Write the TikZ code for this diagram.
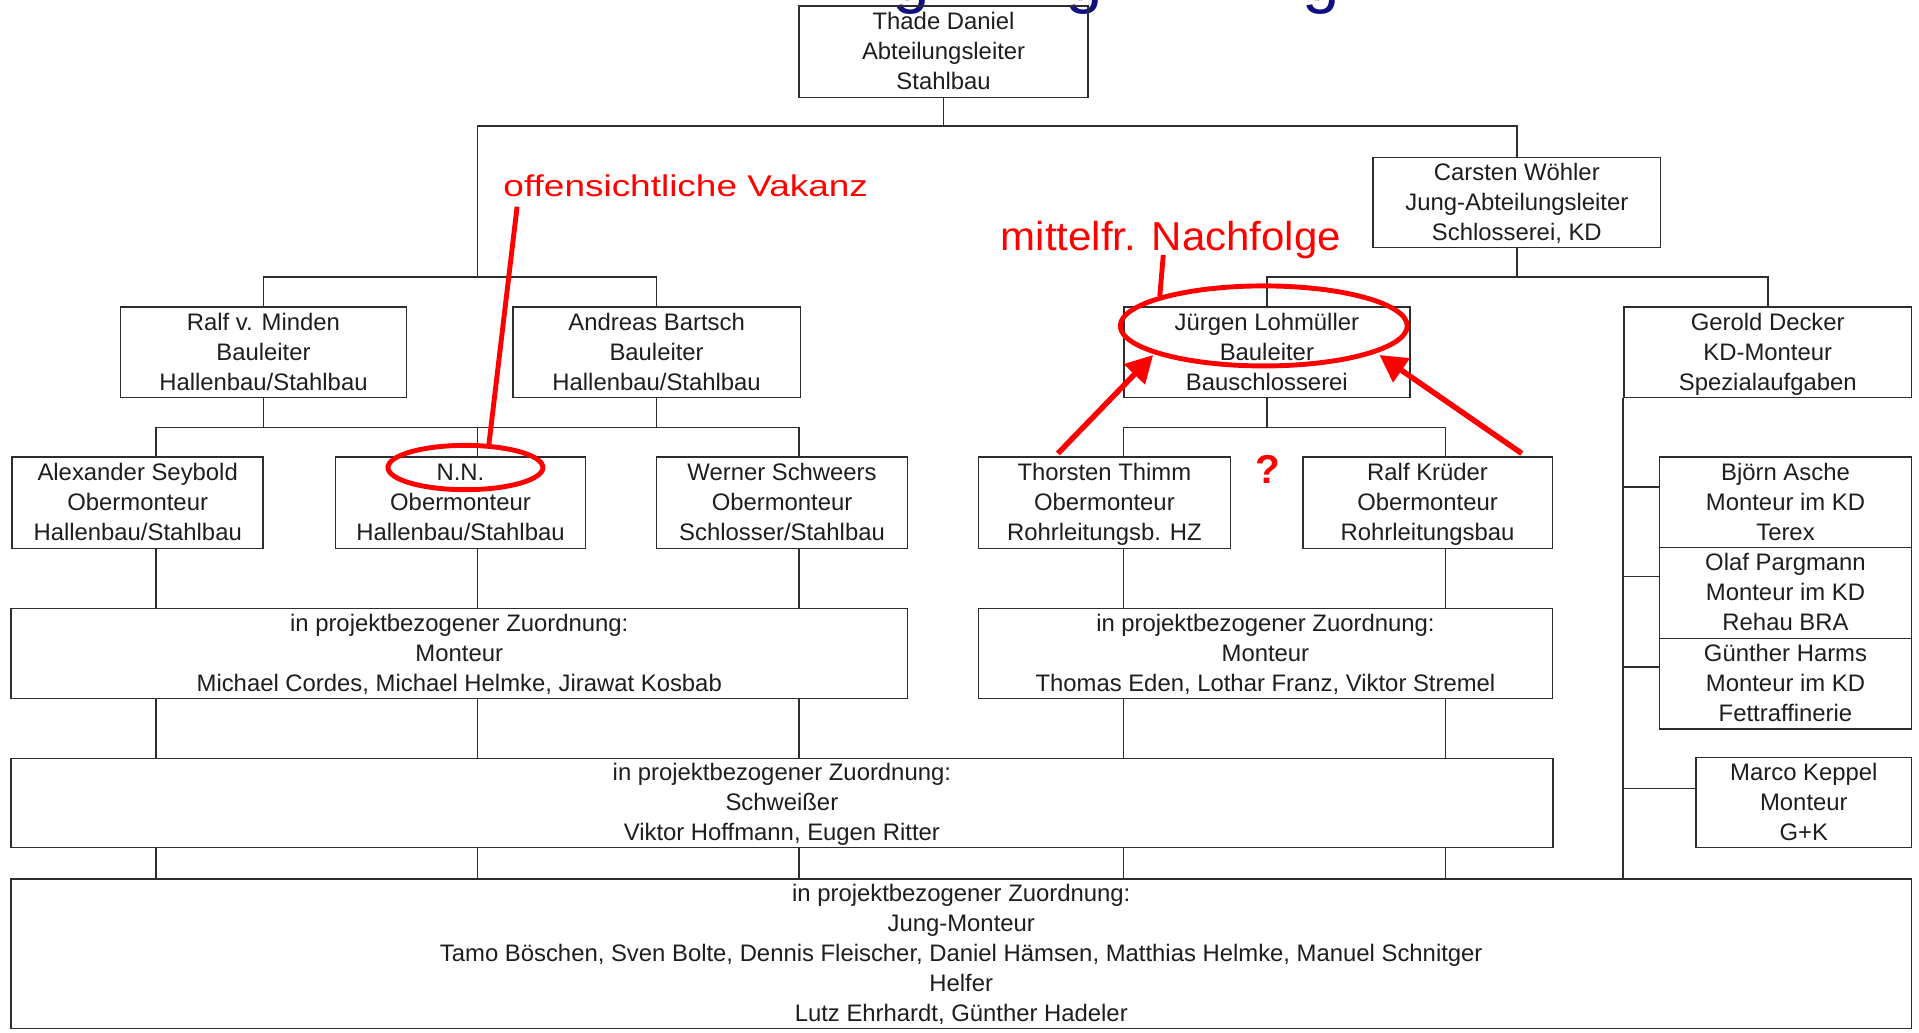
\documentclass[tikz,border=0pt]{standalone}
\usepackage{fontspec}
\usetikzlibrary{shapes.geometric,arrows.meta,calc}
\newfontfamily\boxfont{Liberation Sans}
\newfontfamily\vakfont{Liberation Sans}[FakeStretch=1.233]
\newfontfamily\nachfont{Liberation Sans}[FakeStretch=1.04]
\definecolor{linecol}{RGB}{45,45,45}
\definecolor{textcol}{RGB}{30,30,30}
\definecolor{titleblue}{RGB}{16,16,128}
\definecolor{markred}{RGB}{255,0,0}
\newcommand{\topstrt}{\rule{0pt}{18pt}}
\newcommand{\botstrt}{\rule[-4.9pt]{0pt}{4.9pt}}
\tikzset{
  orgbox/.style={draw=linecol, line width=1.3pt, inner sep=0pt, align=center, text=textcol,
    font=\boxfont\fontsize{19.5}{24.5}\selectfont},
  conn/.style={draw=linecol, line width=1.3pt},
  redmark/.style={draw=markred, line width=4pt},
  redell/.style={ellipse, draw=markred, line width=4pt, inner sep=0pt},
  redarrow/.style={draw=markred, line width=4.5pt, -{Triangle[length=22pt,width=23pt]}},
  titleg/.style={text=titleblue, inner sep=0pt, anchor=base west, font=\boxfont\fontsize{55}{60}\selectfont},
}
\begin{document}
\begin{tikzpicture}[x=1pt,y=-1pt]
\useasboundingbox (0,0) rectangle (1568,844);
\fill[white] (0,0) rectangle (1568,844);

% cut-off title descenders
\node[titleg] (g1) at (729,0.7) {g};
\node[titleg] (g2) at (870,0.7) {g};
\node[titleg] (g3) at (1064,0.7) {g};

% boxes
\node[orgbox, minimum width=236pt, minimum height=74.6pt] (thade) at (771,42.2)
  {\topstrt Thade Daniel\\Abteilungsleiter\\Stahlbau\botstrt};
\node[orgbox, minimum width=235pt, minimum height=73.5pt] (carsten) at (1239.4,165.35)
  {\topstrt Carsten Wöhler\\Jung-Abteilungsleiter\\Schlosserei, KD\botstrt};
\node[orgbox, minimum width=233.5pt, minimum height=74.1pt] (ralf) at (215.25,287.65)
  {\topstrt Ralf v. Minden\\Bauleiter\\Hallenbau/Stahlbau\botstrt};
\node[orgbox, minimum width=235pt, minimum height=74.1pt] (bartsch) at (536.5,287.65)
  {\topstrt Andreas Bartsch\\Bauleiter\\Hallenbau/Stahlbau\botstrt};
\node[orgbox, minimum width=233.5pt, minimum height=74.1pt] (juergen) at (1035.15,287.65)
  {\topstrt Jürgen Lohmüller\\Bauleiter\\Bauschlosserei\botstrt};
\node[orgbox, minimum width=235pt, minimum height=74.1pt] (gerold) at (1444.4,287.65)
  {\topstrt Gerold Decker\\KD-Monteur\\Spezialaufgaben\botstrt};
\node[orgbox, minimum width=205pt, minimum height=74.9pt] (alex) at (112.5,410.65)
  {\topstrt Alexander Seybold\\Obermonteur\\Hallenbau/Stahlbau\botstrt};
\node[orgbox, minimum width=204.5pt, minimum height=74.9pt] (nn) at (376.25,410.65)
  {\topstrt N.N.\\Obermonteur\\Hallenbau/Stahlbau\botstrt};
\node[orgbox, minimum width=205pt, minimum height=74.9pt] (werner) at (639,410.65)
  {\topstrt Werner Schweers\\Obermonteur\\Schlosser/Stahlbau\botstrt};
\node[orgbox, minimum width=206pt, minimum height=74.9pt] (thorsten) at (902.4,410.65)
  {\topstrt Thorsten Thimm\\Obermonteur\\Rohrleitungsb. HZ\botstrt};
\node[orgbox, minimum width=204pt, minimum height=74.9pt] (ralfk) at (1166.45,410.65)
  {\topstrt Ralf Krüder\\Obermonteur\\Rohrleitungsbau\botstrt};
\node[orgbox, minimum width=206pt, minimum height=74pt] (bjoern) at (1458.9,410.2)
  {\topstrt Björn Asche\\Monteur im KD\\Terex\botstrt};
\node[orgbox, minimum width=206pt, minimum height=74.4pt] (olaf) at (1458.9,484.4)
  {\topstrt Olaf Pargmann\\Monteur im KD\\Rehau BRA\botstrt};
\node[orgbox, minimum width=206pt, minimum height=74.1pt] (guenther) at (1458.9,558.65)
  {\topstrt Günther Harms\\Monteur im KD\\Fettraffinerie\botstrt};
\node[orgbox, minimum width=176pt, minimum height=73.5pt] (marco) at (1473.9,655.65)
  {\topstrt Marco Keppel\\Monteur\\G+K\botstrt};
\node[orgbox, minimum width=732.5pt, minimum height=73.6pt] (mont1) at (375.25,533.9)
  {\topstrt in projektbezogener Zuordnung:\\Monteur\\Michael Cordes, Michael Helmke, Jirawat Kosbab\botstrt};
\node[orgbox, minimum width=469.1pt, minimum height=73.6pt] (mont2) at (1033.95,533.9)
  {\topstrt in projektbezogener Zuordnung:\\Monteur\\Thomas Eden, Lothar Franz, Viktor Stremel\botstrt};
\node[orgbox, minimum width=1259.7pt, minimum height=72.7pt] (schw) at (638.85,656.05)
  {\topstrt in projektbezogener Zuordnung:\\Schweißer\\Viktor Hoffmann, Eugen Ritter\botstrt};
\node[orgbox, minimum width=1552.9pt, minimum height=122pt] (big) at (785.45,779.3)
  {\topstrt in projektbezogener Zuordnung:\\Jung-Monteur\\Tamo Böschen, Sven Bolte, Dennis Fleischer, Daniel Hämsen, Matthias Helmke, Manuel Schnitger\\Helfer\\Lutz Ehrhardt, Günther Hadeler\botstrt};

% bus coordinates
\coordinate (b1L) at (390,103);
\coordinate (b1R) at (1239.4,103);
\coordinate (b2L) at (215.25,226.1);
\coordinate (b2R) at (536.5,226.1);
\coordinate (b3a) at (127.5,349.2);
\coordinate (b3b) at (390,349.2);
\coordinate (b3c) at (653,349.2);
\coordinate (b4L) at (1035.15,226.1);
\coordinate (b4R) at (1444.4,226.1);
\coordinate (b5d) at (918,349.2);
\coordinate (b5e) at (1181,349.2);

% top level
\draw[conn] (thade.south) -- (thade.south |- b1L);
\draw[conn] (b1L) -- (b1R) -- (carsten.north);
\draw[conn] (b1L) -- (b1L |- b2L);
\draw[conn] (ralf.north) -- (b2L) -- (b2R) -- (bartsch.north);
\draw[conn] (ralf.south) -- (ralf.south |- b3a);
\draw[conn] (bartsch.south) -- (bartsch.south |- b3a);
\draw[conn] (b3a) -- (b3c);
\draw[conn] (b3a) -- (b3a |- alex.north);
\draw[conn] (b3b) -- (b3b |- nn.north);
\draw[conn] (b3c) -- (b3c |- werner.north);
\foreach \c/\n in {b3a/alex,b3b/nn,b3c/werner}{
  \draw[conn] (\c |- \n.south) -- (\c |- mont1.north);
  \draw[conn] (\c |- mont1.south) -- (\c |- schw.north);
  \draw[conn] (\c |- schw.south) -- (\c |- big.north);
}
% right subtree
\draw[conn] (carsten.south) -- (carsten.south |- b4L);
\draw[conn] (juergen.north) -- (b4L) -- (b4R) -- (gerold.north);
\draw[conn] (juergen.south) -- (juergen.south |- b5d);
\draw[conn] (b5d) -- (b5e);
\draw[conn] (b5d) -- (b5d |- thorsten.north);
\draw[conn] (b5e) -- (b5e |- ralfk.north);
\foreach \c/\n in {b5d/thorsten,b5e/ralfk}{
  \draw[conn] (\c |- \n.south) -- (\c |- mont2.north);
  \draw[conn] (\c |- mont2.south) -- (\c |- schw.north);
  \draw[conn] (\c |- schw.south) -- (\c |- big.north);
}
% Gerold column
\draw[conn] (gerold.south west) -- (gerold.south west |- big.north);
\coordinate (kbj) at ($(bjoern.west)+(0,-12.5)$);
\coordinate (kol) at ($(olaf.west)+(0,-13.2)$);
\coordinate (kgu) at ($(guenther.west)+(0,-13.9)$);
\coordinate (kma) at ($(marco.west)+(0,-11.5)$);
\foreach \k in {kbj,kol,kgu,kma}{
  \draw[conn] (\k) -- (\k -| gerold.west);
}

% red annotations
\node[text=markred, inner sep=0pt, anchor=base west, font=\vakfont\fontsize{24.5}{28}\selectfont] (vak) at (411.2,160.7) {offensichtliche Vakanz};
\node[text=markred, inner sep=0pt, anchor=base west, font=\nachfont\fontsize{33}{36}\selectfont] (nach) at (817.6,204.3) {mittelfr. Nachfolge};
\node[text=markred, inner sep=0pt, anchor=base, font=\boxfont\bfseries\fontsize{33}{36}\selectfont] (quest) at (1035.6,394.9) {?};

\node[redell, minimum width=126.6pt, minimum height=36.2pt] (nnell) at (380.3,382) {};
\node[redell, minimum width=234.5pt, minimum height=65.4pt] (jell) at (1032.6,266.3) {};

\coordinate (vakfoot) at (422.5,168.9);
\coordinate (nachfoot) at (950.5,208.4);
\draw[redmark] (vakfoot) -- (nnell.45);
\draw[redmark] (nachfoot) -- (jell.164);

\coordinate (arrL) at (864.4,370.5);
\coordinate (arrR) at (1243.4,370.5);
\draw[redarrow] (arrL) -- ($(jell.center)+(-90.4,23.8)$);
\draw[redarrow] (arrR) -- ($(jell.center)+(94.5,23.8)$);
\end{tikzpicture}
\end{document}
